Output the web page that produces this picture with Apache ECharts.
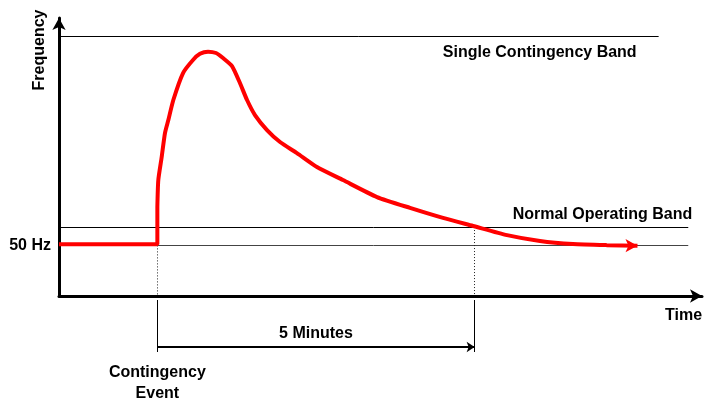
<!DOCTYPE html>
<html>
<head>
<meta charset="utf-8">
<script src="https://cdn.jsdelivr.net/npm/echarts@6/dist/echarts.min.js"></script>
<style>
    html, body {margin: 0; padding: 0; background: #fff;}
    #main {width: 709px; height: 401px;}
</style>
</head>
<body>
<div id="main"></div>
<script>
// time in seconds from the contingency event, level is a relative frequency scale (0..100)
const axisStart = -93;
const axisEnd = 515;

// flat part at 50 Hz and the step at the event
const flatTime = [-93, 0, 0];
const flatLevel = [18.6, 18.6, 32.0];

// frequency excursion after the event
const curveTime = [0, 0.9, 4.1, 7.2, 10.4, 15.1, 24.3, 33.7, 40.3, 47.9, 55.5, 62.1, 70.6, 78.1, 84.8, 92.3,
    103.7, 116, 132, 150.9, 175.5, 207.7, 238.9, 270.1, 298.5, 330.6, 361.8, 393, 425, 454];
const curveLevel = [32.0, 41.7, 50.0, 58.6, 63.3, 70.5, 80.2, 84.9, 87.1, 87.9, 87.4, 85.6, 82.7, 76.6, 70.5, 65.1,
    59.7, 55.4, 51.4, 46.4, 41.7, 35.6, 31.7, 28.1, 25.2, 21.9, 19.8, 18.7, 18.3, 18.1];

// horizontal bands
const bandNames = ['Single Contingency Band', 'Normal Operating Band', '50 Hz'];
const bandLevels = [93.5, 24.8, 18.2];
const bandEnds = [474, 502, 502];

// event marks under the axis
const eventTimes = [0, 300];
const eventFrom = [18.2, 24.8];
const eventNames = ['Contingency\nEvent', ''];
const spanLabel = '5 Minutes';
const tickTop = 101, tickBottom = 49, spanLevel = 54;

const font = {fontFamily: 'Liberation Sans', fontWeight: 'bold', fontSize: 16, color: '#000'};

function zip(a, b) {
    return a.map(function (v, i) {
        return [v, b[i]];
    });
}

let curveData = zip(curveTime, curveLevel);
let last = curveData.pop();
curveData.push({value: last, symbol: 'arrow', symbolSize: [10, 12], symbolRotate: -90});

let bandLabelPos = [
    {position: 'insideEndBottom', distance: [22, 9]},
    {position: 'insideEndTop', distance: [-4, 4]},
    {position: 'start', distance: 8}
];
let bandLines = bandNames.map(function (name, i) {
    return [
        {
            coord: [axisStart, bandLevels[i]],
            lineStyle: {color: i === 2 ? '#444' : '#000', width: 1, type: 'solid'},
            label: Object.assign({show: true, formatter: name}, font, bandLabelPos[i])
        },
        {coord: [bandEnds[i], bandLevels[i]]}
    ];
});
let dotLines = eventTimes.map(function (t, i) {
    return [
        {coord: [t, eventFrom[i]], lineStyle: {color: '#222', width: 1, type: [1, 2]}, label: {show: false}},
        {coord: [t, 0]}
    ];
});
let tickLines = eventTimes.map(function (t, i) {
    return [
        {
            coord: [t, tickTop],
            lineStyle: {color: '#000', width: 1, type: 'solid'},
            label: Object.assign({show: eventNames[i] !== '', formatter: eventNames[i], position: 'end', distance: 10, lineHeight: 21}, font)
        },
        {coord: [t, tickBottom]}
    ];
});

var chart = echarts.init(document.getElementById('main'));
var option = {
    animation: false,
    backgroundColor: '#fff',
    grid: [
        {left: 59, right: 7, top: 18, bottom: 105},
        {left: 59, right: 7, top: 296, bottom: 0}
    ],
    xAxis: [
        {
            type: 'value', gridIndex: 0, min: axisStart, max: axisEnd,
            axisLine: {show: true, onZero: false, symbol: ['none', 'arrow'], symbolSize: [10, 12], lineStyle: {color: '#000', width: 3}},
            axisTick: {show: false}, axisLabel: {show: false}, splitLine: {show: false},
            name: 'Time', nameLocation: 'end', nameGap: -37,
            nameTextStyle: Object.assign({verticalAlign: 'top', padding: [12, 0, 0, 0]}, font)
        },
        {type: 'value', gridIndex: 1, min: axisStart, max: axisEnd, show: false}
    ],
    yAxis: [
        {
            type: 'value', gridIndex: 0, min: 0, max: 100,
            axisLine: {show: true, onZero: false, symbol: ['none', 'arrow'], symbolSize: [10, 12], lineStyle: {color: '#000', width: 3}},
            axisTick: {show: false}, axisLabel: {show: false}, splitLine: {show: false}
        },
        {type: 'value', gridIndex: 1, min: 0, max: 105, show: false}
    ],
    graphic: [
        {
            type: 'text', x: 40, y: 50, rotation: Math.PI / 2,
            style: {text: 'Frequency', font: 'bold 16px "Liberation Sans"', fill: '#000', align: 'center', verticalAlign: 'middle'}
        }
    ],
    series: [
        {
            type: 'line', data: [], silent: true,
            markLine: {silent: true, symbol: ['none', 'none'], data: bandLines.concat(dotLines)}
        },
        {
            type: 'line', data: zip(flatTime, flatLevel), symbol: 'none', silent: true, z: 5,
            lineStyle: {color: '#ff0000', width: 4}
        },
        {
            type: 'line', data: curveData, symbol: 'none', smooth: 0.2, silent: true, z: 5,
            itemStyle: {color: '#ff0000'},
            lineStyle: {color: '#ff0000', width: 4}
        },
        {
            type: 'line', xAxisIndex: 1, yAxisIndex: 1, data: [], silent: true,
            markLine: {silent: true, symbol: ['none', 'none'], data: tickLines}
        },
        {
            type: 'line', xAxisIndex: 1, yAxisIndex: 1, data: [], silent: true,
            markLine: {
                silent: true, symbol: ['none', 'arrow'], symbolSize: 8,
                data: [[
                    {
                        coord: [eventTimes[0], spanLevel],
                        lineStyle: {color: '#000', width: 2, type: 'solid'},
                        label: Object.assign({show: true, formatter: spanLabel, position: 'insideMiddleTop', distance: 5}, font)
                    },
                    {coord: [eventTimes[1], spanLevel]}
                ]]
            }
        }
    ]
};
chart.setOption(option);
</script>
</body>
</html>
